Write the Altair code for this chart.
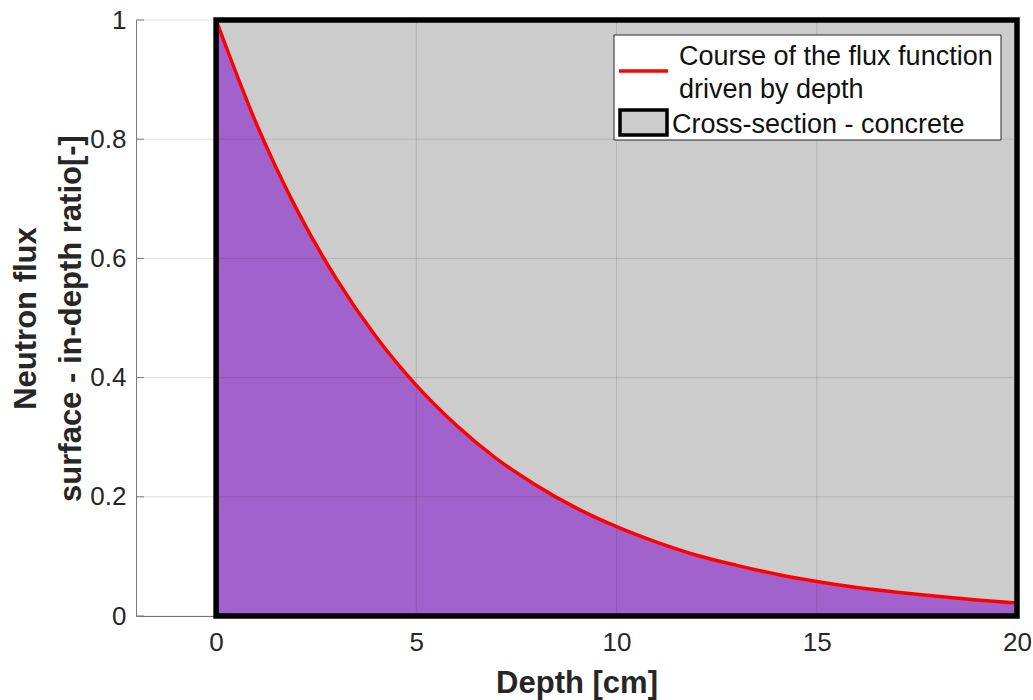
import altair as alt
import pandas as pd

# Neutron flux ratio read along the depth of the concrete section
depth = list(range(0, 21))
flux_ratio = [1.000, 0.827, 0.684, 0.566, 0.468, 0.387, 0.320, 0.264, 0.219,
              0.181, 0.150, 0.124, 0.102, 0.085, 0.070, 0.058, 0.048, 0.040,
              0.033, 0.027, 0.022]

# Concrete cross-section bounds (depth range and ratio range)
section_depth = [0, 20]
section_ratio = [0, 1]

x_domain = [-2, 20]
y_domain = [0, 1]
x_ticks = [0, 5, 10, 15, 20]
y_ticks = [0, 0.2, 0.4, 0.6, 0.8, 1]

legend_labels = ["Course of the flux function", "driven by depth",
                 "Cross-section - concrete"]

FONT = "Liberation Sans"
INK = "#262626"
PURPLE = "#a262cb"
CONCRETE = "#cccccc"

W, H = 881, 596

curve = pd.DataFrame({"x": depth, "y": flux_ratio})
section = pd.DataFrame({"x": [section_depth[0]], "x1": [section_depth[1]],
                        "y": [section_ratio[0]], "y1": [section_ratio[1]]})
xgrid = pd.DataFrame({"x": x_ticks})
ygrid = pd.DataFrame({"y": y_ticks})
one = pd.DataFrame({"k": [0]})

x_axis = alt.Axis(values=x_ticks, format="~g", grid=False, ticks=False,
                  domainColor="#7a7a7a", domainWidth=1,
                  labelFont=FONT, labelFontSize=26, labelColor=INK,
                  labelPadding=13, labelFlush=False, labelOverlap=False,
                  titleFont=FONT, titleFontSize=31, titleFontWeight="bold",
                  titleColor=INK, titleX=W / 2, titleY=76,
                  titleAlign="center", titleBaseline="alphabetic")
y_axis = alt.Axis(values=y_ticks, format="~g", grid=False, ticks=False,
                  domainColor="#7a7a7a", domainWidth=1,
                  labelFont=FONT, labelFontSize=26, labelColor=INK,
                  labelPadding=10, labelFlush=False, labelOverlap=False,
                  titleFont=FONT, titleFontSize=31, titleFontWeight="bold",
                  titleColor=INK, titleLineHeight=45, titleAngle=270,
                  titleX=-101, titleY=H / 2,
                  titleAlign="center", titleBaseline="alphabetic")

x_scale = alt.Scale(domain=x_domain, nice=False, zero=False)
y_scale = alt.Scale(domain=y_domain, nice=False, zero=False)


def X(field="x"):
    return alt.X(f"{field}:Q", scale=x_scale, axis=x_axis, title="Depth [cm]")


def Y(field="y"):
    return alt.Y(f"{field}:Q", scale=y_scale, axis=y_axis,
                 title=["Neutron flux", "surface - in-depth ratio[-]"])


section_fill = alt.Chart(section).mark_rect(
    fill=CONCRETE, strokeWidth=0
).encode(x=X(), x2="x1:Q", y=Y(), y2="y1:Q")

flux_area = alt.Chart(curve).mark_area(
    color=PURPLE, interpolate="monotone", opacity=1
).encode(x=X(), y=Y())

grid_v = alt.Chart(xgrid).mark_rule(
    color=INK, opacity=0.15, strokeWidth=1
).encode(x=X())

grid_h = alt.Chart(ygrid).mark_rule(
    color=INK, opacity=0.15, strokeWidth=1
).encode(y=Y())

y_ticks_in = alt.Chart(ygrid).mark_rule(
    color="#7a7a7a", strokeWidth=1
).encode(y=Y(), x=alt.value(0), x2=alt.value(8))

flux_line = alt.Chart(curve).mark_line(
    color="#ff0000", strokeWidth=3.5, interpolate="monotone"
).encode(x=X(), y=Y())

section_edge = alt.Chart(section).mark_rect(
    fillOpacity=0, stroke="#000000", strokeWidth=5.5
).encode(x=X(), x2="x1:Q", y=Y(), y2="y1:Q")

# Legend box drawn in pixel space of the plot area
LX, LY = -136, -20  # page-to-plot offset
legend_box = alt.Chart(one).mark_rect(
    fill="#ffffff", stroke=INK, strokeWidth=1
).encode(x=alt.value(614 + LX), x2=alt.value(1001 + LX),
         y=alt.value(35 + LY), y2=alt.value(140 + LY))

legend_line = alt.Chart(one).mark_rule(
    color="#ff0000", strokeWidth=3.5
).encode(x=alt.value(619 + LX), x2=alt.value(668 + LX),
         y=alt.value(71 + LY), y2=alt.value(71 + LY))

legend_swatch = alt.Chart(one).mark_rect(
    fill=CONCRETE, stroke="#000000", strokeWidth=3.5
).encode(x=alt.value(620 + LX), x2=alt.value(667 + LX),
         y=alt.value(110 + LY), y2=alt.value(135 + LY))

text_style = dict(font=FONT, fontSize=27, color="#111111",
                  align="left", baseline="alphabetic")
legend_t1 = alt.Chart(one).mark_text(text=legend_labels[0], **text_style).encode(
    x=alt.value(679 + LX), y=alt.value(65 + LY))
legend_t2 = alt.Chart(one).mark_text(text=legend_labels[1], **text_style).encode(
    x=alt.value(679 + LX), y=alt.value(98 + LY))
legend_t3 = alt.Chart(one).mark_text(text=legend_labels[2], **text_style).encode(
    x=alt.value(672 + LX), y=alt.value(133 + LY))

chart = alt.layer(
    section_fill, flux_area, grid_v, grid_h, y_ticks_in, flux_line,
    section_edge, legend_box, legend_line, legend_swatch,
    legend_t1, legend_t2, legend_t3
).properties(
    width=W, height=H,
    padding={"left": 136, "top": 20, "right": 16, "bottom": 84},
    autosize=alt.AutoSizeParams(type="none"),
    background="#ffffff"
).configure_view(stroke=None)

chart.save("out.html", embed_options={"renderer": "svg", "actions": False})
